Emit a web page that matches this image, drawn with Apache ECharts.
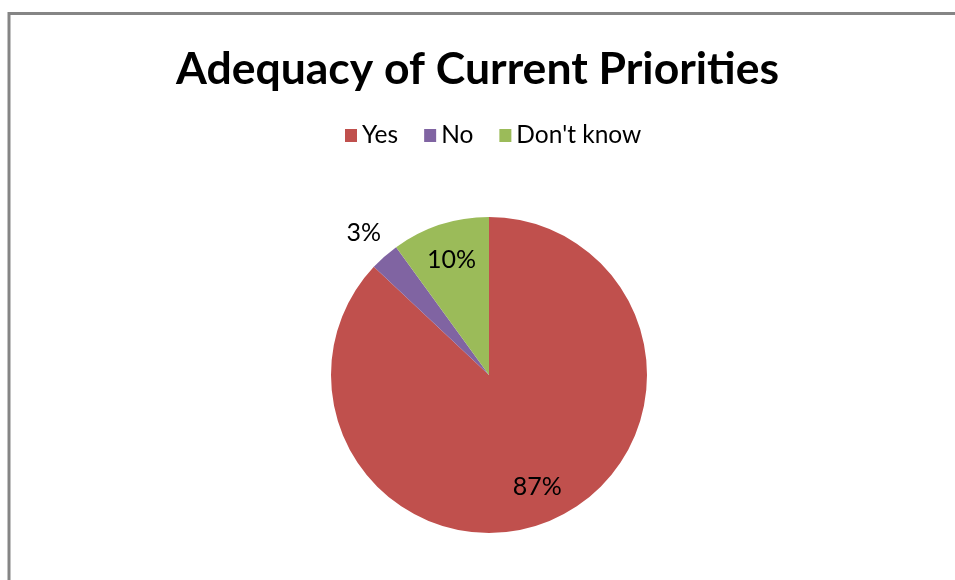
<!DOCTYPE html>
<html><head><meta charset="utf-8">
<script src="https://cdn.jsdelivr.net/npm/echarts@6/dist/echarts.min.js"></script>
<style>html,body{margin:0;padding:0;background:#fff}#c{width:955px;height:580px}</style>
</head><body><div id="c"></div>
<script>
const categories = ['Yes', 'No', "Don't know"];
const values = [87, 3, 10];
const colors = ['#C0504D', '#8064A2', '#9BBB59'];
const titleText = 'Adequacy of Current Priorities';

const R = 158;
const center = [489, 375];
const FONT = 'Lato';
const data = categories.map((n, i) => ({ name: n, value: values[i], itemStyle: { color: colors[i] } }));
const ghost = categories.map((n, i) => ({ name: n, value: values[i] }));
const fmt = p => p.value + '%';

const chart = echarts.init(document.getElementById('c'));
chart.setOption({
  animation: false,
  graphic: [{ type: 'rect', shape: { x: 9, y: 13.5, width: 1000, height: 1000 },
    style: { fill: 'none', stroke: '#858585', lineWidth: 3 }, silent: true }],
  title: { text: titleText, left: 'center', top: 42,
    textStyle: { fontFamily: FONT, fontWeight: 'bold', fontSize: 44.5, color: '#000' } },
  legend: { top: 118, left: 340, itemWidth: 12, itemHeight: 13, itemGap: 26,
    icon: 'rect', textStyle: { fontFamily: FONT, fontSize: 24.5, color: '#000' },
    data: categories },
  series: [
    { type: 'pie', center: center, radius: [0, R], startAngle: 90, clockwise: true,
      data: data, label: { show: false }, labelLine: { show: false }, silent: true },
    { type: 'pie', center: center, radius: [0, R * 1.5], startAngle: 90, clockwise: true,
      data: ghost, silent: true, legendHoverLink: false,
      itemStyle: { color: 'rgba(0,0,0,0)' },
      label: { show: true, position: 'inside', formatter: p => p.dataIndex === 1 ? '' : fmt(p),
        fontFamily: FONT, fontSize: 25, color: '#000' }, labelLine: { show: false } },
    { type: 'pie', center: center, radius: [0, R * 2.36], startAngle: 90, clockwise: true,
      data: ghost, silent: true, legendHoverLink: false,
      itemStyle: { color: 'rgba(0,0,0,0)' },
      label: { show: true, position: 'inside', formatter: p => p.dataIndex === 1 ? fmt(p) : '',
        fontFamily: FONT, fontSize: 25, color: '#000' }, labelLine: { show: false } }
  ]
});
</script></body></html>
